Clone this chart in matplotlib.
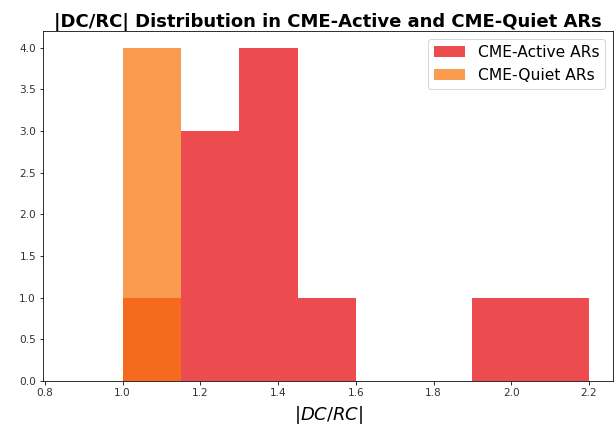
import numpy as np
import matplotlib.pyplot as plt

# histogram bin edges and counts
bin_edges = [1.0, 1.15, 1.3, 1.45, 1.6, 1.75, 1.9, 2.05, 2.2]
active_counts = [1, 3, 4, 1, 0, 0, 1, 1]
quiet_counts = [4, 0, 0, 0, 0, 0, 0, 0]

fig, ax = plt.subplots(figsize=(615 / 72, 429 / 72), dpi=72)
fig.subplots_adjust(left=0.07, right=0.997, top=0.928, bottom=0.112)

centers = (np.array(bin_edges[:-1]) + np.array(bin_edges[1:])) / 2
ax.hist(centers, bins=bin_edges, weights=active_counts, color='#e71a1f', alpha=0.78,
        label='CME-Active ARs')
ax.hist(centers, bins=bin_edges, weights=quiet_counts, color='#f8760c', alpha=0.72,
        label='CME-Quiet ARs')

ax.set_xlim(0.795, 2.262)
ax.set_ylim(0, 4.2)
ax.set_xticks(np.arange(0.8, 2.21, 0.2))
ax.set_yticks(np.arange(0, 4.01, 0.5))
ax.tick_params(labelsize=10.5, labelcolor='#333333')

ax.set_title('|DC/RC| Distribution in CME-Active and CME-Quiet ARs', fontsize=18,
             fontweight='bold', pad=4)
ax.set_xlabel('$|DC/RC|$', fontsize=18, labelpad=6)
ax.legend(fontsize=15.5, loc='upper right')

plt.savefig('out.png')
